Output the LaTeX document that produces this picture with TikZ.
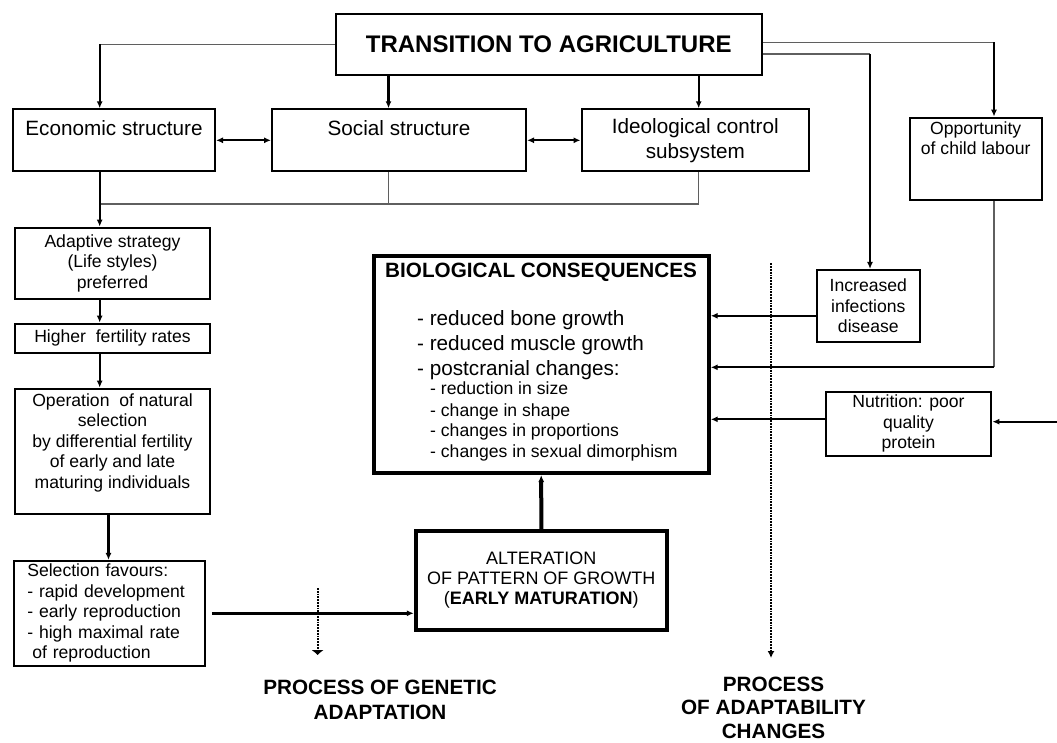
\documentclass[tikz,border=0pt]{standalone}
\usepackage{fontspec}
\setmainfont{Liberation Sans}
\definecolor{WireGrey}{RGB}{95,95,95}
\usetikzlibrary{positioning,arrows.meta}

\newcommand{\titlesize}{\fontsize{24}{28}\selectfont\bfseries}
\newcommand{\bigsize}{\fontsize{20.7}{24.7}\selectfont}
\newcommand{\smallsize}{\fontsize{17.6}{20.5}\selectfont}

\begin{document}
\begin{tikzpicture}[x=1pt, y=-1pt,
    every node/.style={align=center},
    cell/.style={draw, line width=2pt, inner sep=3pt},
    cellbig/.style={draw, line width=4pt, inner sep=3pt},
    wire/.style={line width=1.2pt, WireGrey},
    arr/.style={line width=2.2pt, -{Latex[length=7pt,width=6pt]}},
    dbl/.style={line width=2.2pt, {Latex[length=7pt,width=6pt]}-{Latex[length=7pt,width=6pt]}},
    trail/.style={line width=1.8pt, densely dotted, -{Latex[length=7pt,width=7pt]}}
  ]
  \useasboundingbox (0,0) rectangle (1057,742);

  % top level
  \node[cell, font=\titlesize, minimum width=426pt, minimum height=61pt] (tr) at (548.75,44.3) {TRANSITION TO AGRICULTURE};
  \node[cell, font=\bigsize, minimum width=202pt, minimum height=62pt] (eco) at (114,140.3) {Economic structure\\\mbox{}};
  \node[cell, font=\bigsize, minimum width=254pt, minimum height=62pt, right=55pt of eco] (soc) {Social structure\\\mbox{}};
  \node[cell, font=\bigsize, minimum width=227.6pt, minimum height=62pt, right=53.5pt of soc] (ideo) {Ideological control\\subsystem};
  \node[cell, font=\smallsize, minimum width=131.8pt, minimum height=82.3pt] (child) at (975.7,158.8) {Opportunity\\of child labour\\\mbox{}\\\mbox{}};

  % left column
  \node[cell, font=\smallsize, minimum width=195pt, minimum height=71.3pt] (adapt) at (112.5,263.3) {Adaptive strategy\\(Life styles)\\preferred};
  \node[cell, font=\smallsize, minimum width=195pt, minimum height=29.3pt, below=22.7pt of adapt] (fert) {Higher\ \ fertility rates};
  \node[cell, font=\smallsize, minimum width=195pt, minimum height=125.3pt, below=33.7pt of fert] (natsel) {Operation\ \ of natural\\selection\\by differential fertility\\of early and late\\maturing individuals\\\mbox{}};
  \node[cell, font=\smallsize, align=left, text width=164pt, inner xsep=13.5pt, minimum height=104.7pt] (favour) at (109.3,613.3) {Selection favours:\\- rapid development\\- early reproduction\\- high maximal rate\\\hspace*{5pt}of reproduction};

  % consequences
  \node[cellbig, minimum width=335pt, minimum height=217pt] (bio) at (541.2,364.5) {};
  \node[anchor=north west, align=left, inner sep=0pt, font=\smallsize] (biolist) at ([xshift=13.3pt,yshift=-9.3pt]bio.north west) {%
    {\bfseries\bigsize BIOLOGICAL CONSEQUENCES}\\[26.8pt]
    \hspace*{32pt}{\bigsize - reduced bone growth}\\[4.5pt]
    \hspace*{32pt}{\bigsize - reduced muscle growth}\\[4.5pt]
    \hspace*{32pt}{\bigsize - postcranial changes:}\\[-1pt]
    \hspace*{45pt}- reduction in size\\[0.8pt]
    \hspace*{45pt}- change in shape\\
    \hspace*{45pt}- changes in proportions\\
    \hspace*{45pt}- changes in sexual dimorphism};
  \node[cell, font=\smallsize, minimum width=103.3pt, minimum height=71.7pt] (infect) at (868.3,305.8) {Increased\\infections\\disease};
  \node[cell, font=\smallsize, minimum width=165.7pt, minimum height=64.3pt] (nutri) at (908.5,423.8) {Nutrition: poor\\quality\\protein};
  \node[cellbig, font=\fontsize{18}{20}\selectfont, minimum width=251pt, minimum height=98.7pt] (alter) at (541.3,580.3) {ALTERATION\\OF PATTERN OF GROWTH\\(\textbf{EARLY MATURATION})};

  % process labels
  \node[font=\bfseries\bigsize] (genetic) at (380,699.9) {PROCESS OF GENETIC\\ADAPTATION};
  \node[font=\bfseries\fontsize{20.7}{23.5}\selectfont] (adaptab) at (773.5,707.5) {PROCESS\\OF ADAPTABILITY\\CHANGES};

  \coordinate (kEco) at (99.7,44.3);
  \coordinate (kTie) at (99.7,204);
  \coordinate (kSoc) at (388.5,204);
  \coordinate (kIdeo) at (698.7,204);
  \coordinate (kChild) at (994,42.3);
  \coordinate (kInf) at (870,54);
  \coordinate (kLab) at (994,367.3);
  \coordinate (kDiet) at (1057,421.7);
  \coordinate (gTop) at (317.6,588);
  \coordinate (gEnd) at (317.6,655);
  \coordinate (aTop) at (771,263.3);
  \coordinate (aEnd) at (771,658);

  % from the title
  \draw[wire] (tr.west) -- (kEco);
  \draw[arr] (kEco) -- (kEco |- eco.north);
  \draw[arr] (kSoc |- tr.south) -- (kSoc |- soc.north);
  \draw[arr] (kIdeo |- tr.south) -- (kIdeo |- ideo.north);
  \draw[wire] (tr.east |- kChild) -- (kChild);
  \draw[arr] (kChild) -- (kChild |- child.north);
  \draw[wire] (tr.east |- kInf) -- (kInf);
  \draw[arr] (kInf) -- (kInf |- infect.north);

  % row links and tie line
  \draw[dbl] (eco.east) -- (soc.west);
  \draw[dbl] (soc.east) -- (soc.east -| ideo.west);
  \draw[wire] (kSoc |- soc.south) -- (kSoc);
  \draw[wire] (kIdeo |- ideo.south) -- (kIdeo) -- (kTie);

  % left column
  \draw[arr] (kTie |- eco.south) -- (kTie |- adapt.north);
  \draw[arr] (kTie |- adapt.south) -- (kTie |- fert.north);
  \draw[arr] (kTie |- fert.south) -- (kTie |- natsel.north);
  \draw[arr] ([xshift=-4pt]natsel.south) -- ([xshift=-4pt]natsel.south |- favour.north);
  \draw[arr, line width=3pt] ([xshift=6pt]favour.east) -- (favour.east -| alter.west);

  % into the consequences box
  \draw[arr, line width=4pt] (alter.north) -- (bio.south);
  \draw[arr] ([yshift=-10pt]infect.west) -- ([yshift=-10pt]infect.west -| bio.east);
  \draw[wire] (kLab |- child.south) -- (kLab);
  \draw[arr] (kLab) -- (kLab -| bio.east);
  \draw[arr] ([yshift=4.5pt]nutri.west) -- ([yshift=4.5pt]nutri.west -| bio.east);
  \draw[arr] (kDiet) -- (kDiet -| nutri.east);

  % process trails
  \draw[trail, -{Latex[length=5pt,width=13pt]}] (gTop) -- (gEnd);
  \draw[trail] (aTop) -- (aEnd);
\end{tikzpicture}
\end{document}
